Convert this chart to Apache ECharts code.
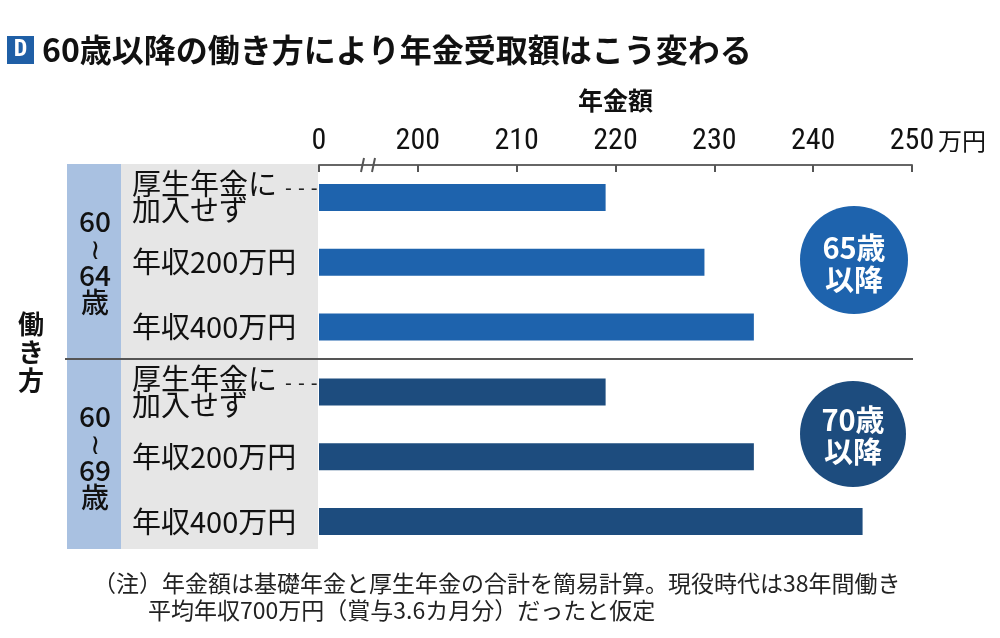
<!DOCTYPE html>
<html><head><meta charset="utf-8">
<script src="https://cdn.jsdelivr.net/npm/echarts@6/dist/echarts.min.js"></script>
<style>html,body{margin:0;padding:0;background:#fff}#c{width:1000px;height:638px}</style>
</head><body><div id="c"></div>
<script>
const JP = "'Noto Sans CJK JP', 'Noto Sans', sans-serif";
const NUM = "'Liberation Sans Narrow', 'Roboto Condensed', 'Liberation Sans', sans-serif";

const titleText = '60歳以降の働き方により年金受取額はこう変わる';
const axisTitle = '年金額';
const unitText = '万円';
const jobLabels = ['厚生年金に\n加入せず', '年収200万円', '年収400万円', '厚生年金に\n加入せず', '年収200万円', '年収400万円'];
const groupLabels = ['60\n≀\n64\n歳', '60\n≀\n69\n歳'];
const values65 = [219, 229, 234];   // 60~64歳 働き, 65歳以降受取
const values70 = [219, 234, 245];   // 60~69歳 働き, 70歳以降受取
const badgeTexts = ['65歳\n以降', '70歳\n以降'];
const tickMin = 190, tickMax = 250, tickStep = 10;
const noteLines = ['（注）年金額は基礎年金と厚生年金の合計を簡易計算。現役時代は38年間働き', '平均年収700万円（賞与3.6カ月分）だったと仮定'];

const C65 = '#1e63ad', C70 = '#1d4c7e';
const barData = values65.map(v => ({ value: v, itemStyle: { color: C65 } }))
  .concat(values70.map(v => ({ value: v, itemStyle: { color: C70 } })));

const chart = echarts.init(document.getElementById('c'), null, { renderer: 'canvas' });
chart.setOption({
  animation: false,
  backgroundColor: '#fff',
  grid: { left: 319, right: 88, top: 165, bottom: 84 },
  xAxis: {
    type: 'value', position: 'top', min: tickMin, max: tickMax, interval: tickStep,
    name: axisTitle, nameLocation: 'middle', nameGap: 52,
    nameTextStyle: { fontFamily: JP, fontSize: 25, fontWeight: 'bold', color: '#111' },
    axisLine: { show: true, lineStyle: { color: '#666', width: 2 } },
    axisTick: { show: true, inside: true, length: 7, lineStyle: { color: '#555', width: 2 } },
    splitLine: { show: false },
    axisLabel: {
      margin: 9, fontFamily: NUM, fontSize: 30, color: '#111',
      formatter: v => (v === tickMin ? '0' : String(v))
    }
  },
  yAxis: [{
    type: 'category', inverse: true, data: jobLabels,
    axisLine: { show: false }, axisTick: { show: false }, splitLine: { show: false },
    axisLabel: {
      align: 'left', margin: 187, color: '#111', fontFamily: JP, fontSize: 29, lineHeight: 26,
      formatter: v => {
        const parts = v.split('\n');
        if (parts.length > 1) return '{a|' + parts[0] + '}{d| - - -}\n{a|' + parts[1] + '}';
        return '{a|' + v + '}';
      },
      rich: {
        a: { fontFamily: JP, fontSize: 29, lineHeight: 26, color: '#111' },
        d: { fontFamily: 'DejaVu Sans', fontSize: 19, color: '#222', lineHeight: 26, padding: [12, 0, 0, 2] }
      }
    }
  }, {
    type: 'category', inverse: true, data: groupLabels, position: 'left',
    axisLine: { show: false }, axisTick: { show: false }, splitLine: { show: false },
    axisLabel: { align: 'center', margin: 224, color: '#111', fontFamily: JP, fontSize: 28, fontWeight: 500, lineHeight: 27 }
  }],
  series: [{
    type: 'bar', yAxisIndex: 0, data: barData, barWidth: 27, clip: true, z: 3
  }],
  graphic: [
    { type: 'rect', z: -10, shape: { x: 67, y: 164, width: 54, height: 385 }, style: { fill: '#a9c1e1' }, silent: true },
    { type: 'rect', z: -10, shape: { x: 121, y: 164, width: 197, height: 385 }, style: { fill: '#e6e6e6' }, silent: true },
    { type: 'line', z: 5, shape: { x1: 65, y1: 359, x2: 913, y2: 359 }, style: { stroke: '#555', lineWidth: 2 } },
    { type: 'line', z: 5, shape: { x1: 361, y1: 172, x2: 364, y2: 158 }, style: { stroke: '#555', lineWidth: 2 } },
    { type: 'line', z: 5, shape: { x1: 372, y1: 172, x2: 375, y2: 158 }, style: { stroke: '#555', lineWidth: 2 } },
    { type: 'rect', shape: { x: 7, y: 36, width: 27, height: 28 }, style: { fill: '#1f5fa6' } },
    { type: 'text', style: { x: 20.5, y: 50, text: 'D', textAlign: 'center', textVerticalAlign: 'middle', fill: '#fff', font: 'bold 24px ' + NUM } },
    { type: 'text', style: { x: 42, y: 50, text: titleText, textAlign: 'left', textVerticalAlign: 'middle', fill: '#111', font: 'bold 32px ' + JP } },
    { type: 'text', style: { x: 938, y: 141, text: unitText, textAlign: 'left', textVerticalAlign: 'middle', fill: '#111', font: '24px ' + JP } },
    { type: 'text', style: { x: 31, y: 352, text: '働\nき\n方', textAlign: 'center', textVerticalAlign: 'middle', fill: '#111', font: 'bold 26px ' + JP, lineHeight: 28 } },
    { type: 'circle', z: 5, shape: { cx: 854, cy: 260, r: 54 }, style: { fill: C65 } },
    { type: 'text', z: 6, style: { x: 854, y: 264, text: badgeTexts[0], textAlign: 'center', textVerticalAlign: 'middle', fill: '#fff', font: 'bold 29px ' + JP, lineHeight: 32 } },
    { type: 'circle', z: 5, shape: { cx: 853, cy: 434, r: 53 }, style: { fill: C70 } },
    { type: 'text', z: 6, style: { x: 853, y: 436, text: badgeTexts[1], textAlign: 'center', textVerticalAlign: 'middle', fill: '#fff', font: 'bold 29px ' + JP, lineHeight: 32 } },
    { type: 'text', style: { x: 93, y: 583, text: noteLines[0], textAlign: 'left', textVerticalAlign: 'middle', fill: '#222', font: '23px ' + JP } },
    { type: 'text', style: { x: 148, y: 610, text: noteLines[1], textAlign: 'left', textVerticalAlign: 'middle', fill: '#222', font: '23px ' + JP } }
  ]
});
</script></body></html>
